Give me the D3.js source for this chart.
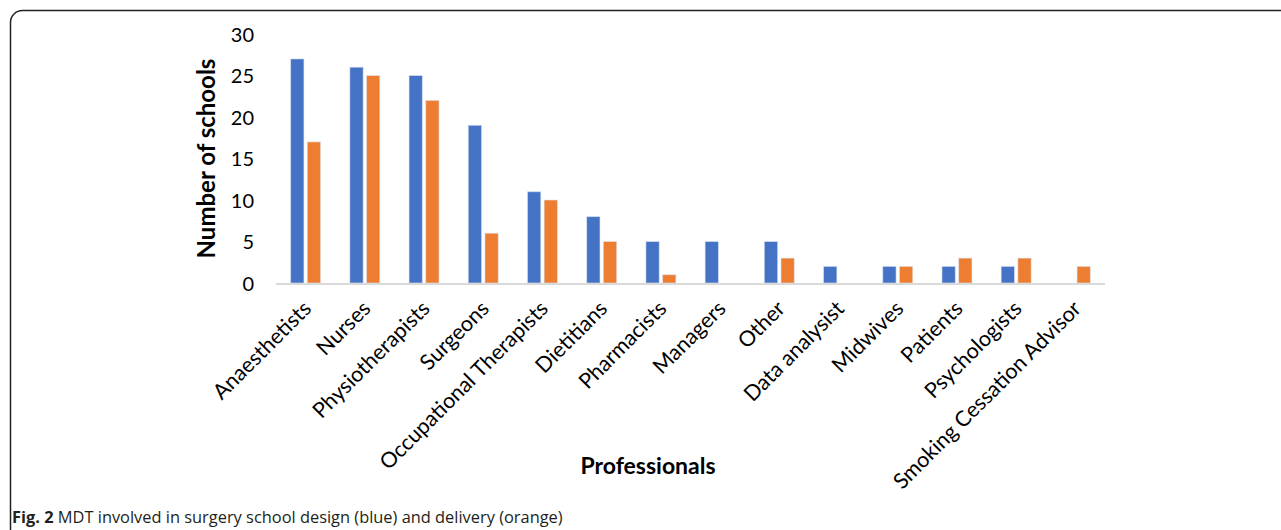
<!DOCTYPE html>
<html>
<head>
<meta charset="utf-8">
<script src="https://cdn.jsdelivr.net/npm/d3@7"></script>
<style>
  body { margin: 0; background: #fff; }
  svg { display: block; }
  .tick text { font-family: Lato, "Open Sans", sans-serif; fill: #000; }
</style>
</head>
<body>
<div id="chart"></div>
<script>
// chart data
let professions = ["Anaesthetists", "Nurses", "Physiotherapists", "Surgeons",
  "Occupational Therapists", "Dietitians", "Pharmacists", "Managers", "Other",
  "Data analysist", "Midwives", "Patients", "Psychologists", "Smoking Cessation Advisor"];
let designValues = [27, 26, 25, 19, 11, 8, 5, 5, 5, 2, 2, 2, 2, 0];
let deliveryValues = [17, 25, 22, 6, 10, 5, 1, 0, 3, 0, 2, 3, 3, 2];
let yTicks = [0, 5, 10, 15, 20, 25, 30];
let seriesKeys = ["design", "delivery"];
let seriesColors = ["#4472C4", "#ED7D31"];

let svgWidth = 1281;
let svgHeight = 530;

// plot area
let margin = { top: 34, left: 276, right: 176, bottom: 247 };
let chartWidth = svgWidth - margin.left - margin.right;
let chartHeight = svgHeight - margin.top - margin.bottom;

let rows = professions.map((p, i) => ({ name: p, design: designValues[i], delivery: deliveryValues[i] }));

let svg = d3.select("#chart").append("svg")
  .attr("width", svgWidth)
  .attr("height", svgHeight);

// rounded frame (runs off the right and bottom edges)
svg.append("rect")
  .attr("x", 10.5).attr("y", 10.5)
  .attr("width", 1300).attr("height", 560)
  .attr("rx", 12)
  .attr("fill", "none")
  .attr("stroke", "#222")
  .attr("stroke-width", 1.5);

let g = svg.append("g").attr("transform", `translate(${margin.left},${margin.top})`);

let x0 = d3.scaleBand().domain(professions).range([0, chartWidth]).paddingInner(0).paddingOuter(0);
let x1 = d3.scaleBand().domain(seriesKeys).range([x0.bandwidth() / 2 - 15, x0.bandwidth() / 2 + 15]).paddingInner(0.2).paddingOuter(0);
let y = d3.scaleLinear().domain([0, 30]).range([chartHeight, 0]);
let color = d3.scaleOrdinal().domain(seriesKeys).range(seriesColors);

// bars
let groups = g.selectAll(".grp").data(rows).enter().append("g")
  .attr("class", "grp")
  .attr("transform", d => `translate(${x0(d.name)},0)`);

groups.selectAll("rect")
  .data(d => seriesKeys.map(k => ({ key: k, value: d[k] })))
  .enter().append("rect")
  .filter(d => d.value > 0)
  .attr("x", d => x1(d.key))
  .attr("width", x1.bandwidth())
  .attr("y", d => y(d.value))
  .attr("height", d => y(0) - y(d.value))
  .attr("fill", d => color(d.key))
  .attr("stroke", "#dfe6f3")
  .attr("stroke-opacity", 0.6)
  .attr("stroke-width", 1);

// baseline
g.append("line")
  .attr("x1", 0).attr("x2", chartWidth)
  .attr("y1", y(0) + 1).attr("y2", y(0) + 1)
  .attr("stroke", "#d9d9d9")
  .attr("stroke-width", 2);

// y axis
let yAxis = g.append("g")
  .attr("class", "y-axis")
  .attr("transform", "translate(-22,0)")
  .call(d3.axisLeft(y).tickValues(yTicks).tickSize(0).tickPadding(0));
yAxis.select(".domain").remove();
yAxis.selectAll("text").attr("font-size", 20).attr("dy", "0.35em");

// x axis labels
let xAxis = g.append("g")
  .attr("class", "x-axis")
  .attr("transform", `translate(0,${chartHeight})`)
  .call(d3.axisBottom(x0).tickSize(0).tickPadding(0));
xAxis.select(".domain").remove();
xAxis.selectAll("text")
  .attr("font-size", 21.5)
  .attr("text-anchor", "end")
  .attr("dy", 0)
  .attr("y", 0)
  .attr("transform", "translate(7,27) rotate(-45)");

// axis titles
svg.append("text")
  .attr("transform", `translate(215,${margin.top + chartHeight / 2}) rotate(-90)`)
  .attr("text-anchor", "middle")
  .attr("font-family", "Lato, 'Open Sans', sans-serif")
  .attr("font-weight", "bold")
  .attr("font-size", 24)
  .text("Number of schools");

svg.append("text")
  .attr("x", 648).attr("y", 474)
  .attr("text-anchor", "middle")
  .attr("font-family", "Lato, 'Open Sans', sans-serif")
  .attr("font-weight", "bold")
  .attr("font-size", 23)
  .text("Professionals");

// caption
let cap = svg.append("text")
  .attr("x", 12).attr("y", 523)
  .attr("font-family", "'Open Sans', sans-serif")
  .attr("font-size", 16.4)
  .attr("fill", "#231f20");
cap.append("tspan").attr("font-weight", "bold").text("Fig. 2");
cap.append("tspan").text(" MDT involved in surgery school design (blue) and delivery (orange)");
</script>
</body>
</html>
